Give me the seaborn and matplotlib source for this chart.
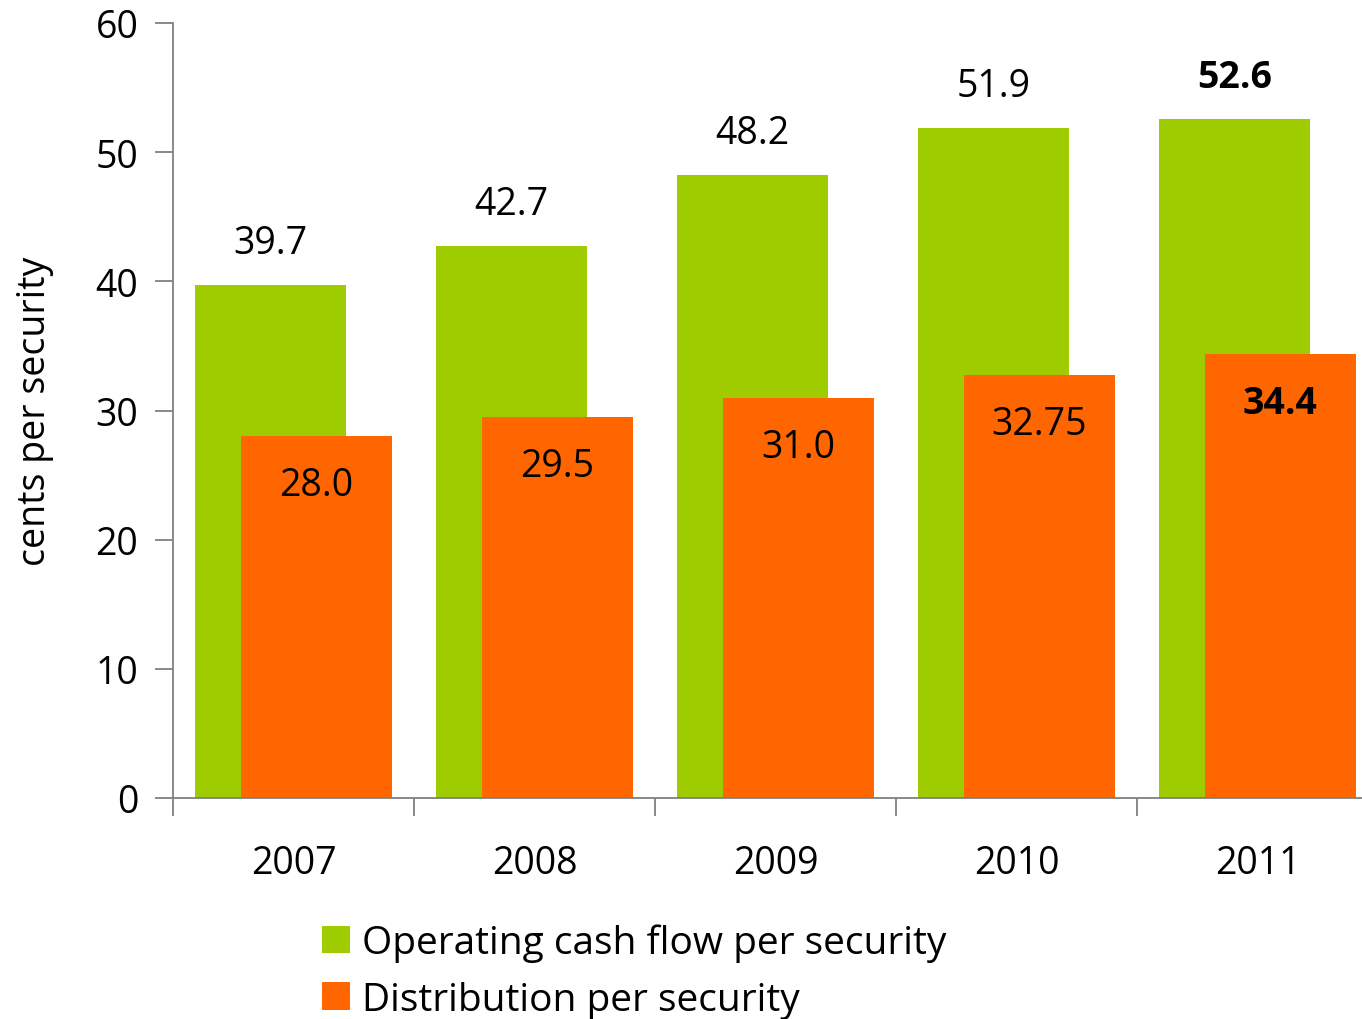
import matplotlib
matplotlib.use("Agg")
import matplotlib.pyplot as plt
import seaborn as sns
import pandas as pd
from matplotlib.patches import Patch
from matplotlib.transforms import offset_copy

years = [2007, 2008, 2009, 2010, 2011]
operating_cf = [39.7, 42.7, 48.2, 51.9, 52.6]
distribution = [28.0, 29.5, 31.0, 32.75, 34.4]
ocf_labels = ["39.7", "42.7", "48.2", "51.9", "52.6"]
dist_labels = ["28.0", "29.5", "31.0", "32.75", "34.4"]
series_names = ["Operating cash flow per security", "Distribution per security"]

GREEN = "#9ECC00"
ORANGE = "#FF6600"
SPINE = "#808080"

sns.set_theme(style="white")
plt.rcParams["font.family"] = ["Open Sans", "DejaVu Sans"]
plt.rcParams["text.color"] = "black"
plt.rcParams["xtick.color"] = "black"
plt.rcParams["ytick.color"] = "black"
plt.rcParams["axes.labelcolor"] = "black"

FS = 27
fig = plt.figure(figsize=(13.62, 10.2), dpi=100)
ax = fig.add_axes([173 / 1362, 1 - 799 / 1020, 1 - 173 / 1362, (799 - 24) / 1020])

off = 0.095
w = 0.627
df_g = pd.DataFrame({"x": [y - off for y in years], "v": operating_cf})
df_o = pd.DataFrame({"x": [y + off for y in years], "v": distribution})
sns.barplot(data=df_g, x="x", y="v", native_scale=True, width=w, color=GREEN,
            saturation=1, ax=ax, linewidth=0, zorder=2)
sns.barplot(data=df_o, x="x", y="v", native_scale=True, width=w, color=ORANGE,
            saturation=1, ax=ax, linewidth=0, zorder=3)

ax.set_xlim(years[0] - 0.5, years[0] - 0.5 + (1362 - 173) / 241)
ax.set_ylim(0, 60)
ax.set_yticks(range(0, 61, 10))

ax.set_xticks(years)
ax.set_xticklabels([str(y) for y in years], fontsize=FS)
ax.tick_params(axis="x", which="major", length=0, pad=33, labelcolor="black")
ax.set_xticks([y - 0.5 for y in years], minor=True)
ax.tick_params(axis="x", which="minor", length=13, width=1.3, color=SPINE, direction="out",
               bottom=True)
ax.tick_params(axis="y", length=13, width=1.3, color=SPINE, direction="out", left=True,
               labelsize=FS, pad=12, labelcolor="black")

for s in ["top", "right"]:
    ax.spines[s].set_visible(False)
for s in ["left", "bottom"]:
    ax.spines[s].set_color(SPINE)
    ax.spines[s].set_linewidth(1.3)
    ax.spines[s].set_zorder(5)

ax.set_xlabel("")
ax.set_ylabel("cents per security", fontsize=FS, labelpad=30, color="black")

for i, y in enumerate(years):
    bold = (i == len(years) - 1)
    t1 = offset_copy(ax.transData, fig=fig, x=0, y=42 * 0.72, units="points")
    ax.text(y - off, operating_cf[i], ocf_labels[i], transform=t1, ha="center", va="center",
            fontsize=FS, fontweight="bold" if bold else "normal", color="black")
    t2 = offset_copy(ax.transData, fig=fig, x=0, y=-49 * 0.72, units="points")
    ax.text(y + off, distribution[i], dist_labels[i], transform=t2, ha="center", va="center",
            fontsize=FS, fontweight="bold" if bold else "normal", color="black", zorder=6)

handles = [Patch(facecolor=GREEN, edgecolor="none"), Patch(facecolor=ORANGE, edgecolor="none")]
fig.legend(handles, series_names, loc="center left",
           bbox_to_anchor=(322 / 1362, 1 - 972 / 1020), frameon=False, fontsize=28,
           handlelength=0.72, handleheight=0.72, handletextpad=0.3, labelspacing=0.48,
           borderpad=0, borderaxespad=0)

fig.savefig("out.png", dpi=100)
